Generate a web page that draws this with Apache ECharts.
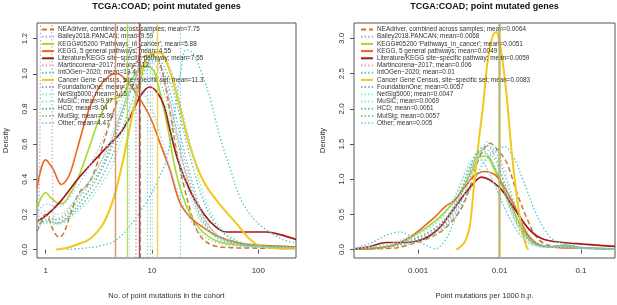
<!DOCTYPE html>
<html><head><meta charset="utf-8">
<script src="https://cdn.jsdelivr.net/npm/echarts@6/dist/echarts.min.js"></script>
<style>html,body{margin:0;padding:0;background:#fff}#c{width:617px;height:305px}</style>
</head><body><div id="c"></div>
<script>
// ---------- DATA ----------
const chartTitle = 'TCGA:COAD; point mutated genes';
const leftXTitle = 'No. of point mutations in the cohort';
const rightXTitle = 'Point mutations per 1000 b.p.';
const yTitle = 'Density';
const setNames = [
  'NEAdriver, combined across samples', 'Bailey2018.PANCAN', "KEGG#05200 'Pathways_in_cancer'",
  'KEGG, 5 general pathways', 'Literature/KEGG site\u2212specific pathway', 'Martincorena\u22122017',
  'IntOGen\u22122020', 'Cancer Gene Census, site\u2212specific set', 'FoundationOne', 'NetSig5000',
  'MuSiC', 'HCD', 'MutSig', 'Other'];
const leftMeans = [7.75, 9.59, 5.88, 4.55, 7.55, 7.12, 18.4, 11.3, 7.73, 6.15, 9.97, 9.04, 6.99, 4.47];
const rightMeans = [0.0064, 0.0068, 0.0051, 0.0049, 0.0059, 0.006, 0.01, 0.0083, 0.0057, 0.0047, 0.0069, 0.0061, 0.0057, 0.005];
const leftXTicks = [1, 10, 100];
const rightXTicks = [0.001, 0.01, 0.1];
const leftYTicks = [0, 0.2, 0.4, 0.6, 0.8, 1.0, 1.2];
const rightYTicks = [0, 0.5, 1.0, 1.5, 2.0, 2.5, 3.0];

// left panel curves: [mutations, density]
const L_nea = [[0.83,0.105],[0.9,0.15],[1.0,0.20],[1.08,0.17],[1.2,0.10],[1.35,0.07],[1.5,0.10],[1.75,0.22],[2.1,0.33],[2.5,0.37],[2.9,0.45],[3.4,0.58],[4.0,0.72],[4.8,0.86],[5.8,0.98],[7,1.06],[8.5,1.1],[10,1.11],[11.5,1.08],[13,0.97],[15,0.76],[17.5,0.52],[20,0.36],[23,0.22],[26,0.12],[30,0.06],[37,0.025],[50,0.012],[100,0.008],[226,0.006]];
const L_bailey = [[0.83,0.14],[1,0.2],[1.2,0.17],[1.5,0.2],[2,0.3],[2.5,0.38],[3,0.45],[4,0.6],[5,0.76],[6.5,0.93],[8,1.04],[10,1.08],[12,1.03],[14,0.9],[17,0.67],[20,0.47],[24,0.3],[30,0.16],[40,0.07],[60,0.03],[100,0.015],[226,0.01]];
const L_kegg05200 = [[0.83,0.23],[0.9,0.29],[1,0.325],[1.1,0.30],[1.25,0.27],[1.4,0.26],[1.6,0.29],[2,0.4],[2.5,0.56],[3,0.7],[3.5,0.8],[4,0.85],[4.6,0.86],[5.3,0.88],[6.3,0.96],[7.5,1.02],[9,1.045],[10.5,1.01],[12,0.88],[14,0.7],[16,0.5],[18,0.37],[21,0.25],[25,0.16],[30,0.1],[40,0.05],[55,0.03],[100,0.02],[226,0.012]];
const L_kegg5 = [[0.83,0.35],[1,0.51],[1.17,0.46],[1.41,0.37],[1.66,0.42],[2,0.58],[2.5,0.78],[3.16,0.92],[4,0.99],[4.7,1.0],[5.6,0.97],[7.1,0.89],[9.5,0.76],[12,0.6],[14.8,0.45],[18.2,0.27],[22.4,0.19],[28,0.14],[40,0.08],[63,0.04],[100,0.025],[226,0.015]];
const L_lit = [[0.83,0.163],[1,0.19],[1.41,0.28],[2,0.4],[2.8,0.5],[4,0.6],[5,0.66],[6.3,0.76],[7.9,0.88],[9.5,0.925],[11,0.9],[13,0.82],[14.5,0.7],[17.5,0.51],[23,0.33],[31,0.2],[40,0.128],[50,0.1],[80,0.1],[120,0.1],[160,0.085],[226,0.058]];
const L_martincorena = [[0.83,0.12],[0.87,0.3],[0.9,1.4],[0.93,2.5],[1.1,2.5],[1.14,1.4],[1.17,0.3],[1.25,0.15],[1.7,0.2],[2.3,0.3],[3,0.4],[4,0.56],[5,0.74],[6.3,0.9],[8,1.02],[10,1.06],[12,1.0],[15,0.82],[19,0.57],[24,0.35],[30,0.19],[40,0.09],[60,0.04],[100,0.02],[226,0.01]];
const L_intogen = [[1.6,0.0],[2.5,0.01],[3.2,0.02],[4.5,0.05],[6.3,0.14],[9.5,0.3],[11.5,0.4],[13.8,0.52],[16,0.75],[18.5,1.0],[21,1.137],[24,1.12],[28.3,1.03],[35.2,0.86],[43.6,0.64],[54.4,0.46],[67.8,0.29],[89,0.18],[120,0.11],[170,0.057],[226,0.036]];
const L_cgc = [[1.25,0.0],[1.6,0.01],[2,0.03],[2.6,0.06],[3.5,0.15],[4.4,0.3],[5.4,0.52],[6.3,0.72],[7.1,0.86],[8,1.0],[9,1.09],[10.3,1.12],[11.9,1.12],[14.8,1.01],[18.3,0.81],[22.7,0.59],[30.4,0.39],[43.6,0.256],[62.7,0.146],[83.6,0.057],[104,0.02],[140,0.008],[226,0.005]];
const L_f1 = [[0.83,0.13],[1,0.17],[1.3,0.15],[1.7,0.2],[2.3,0.3],[3,0.4],[4,0.55],[5,0.72],[6.3,0.9],[8,1.05],[10,1.1],[12,1.05],[15,0.88],[19,0.62],[24,0.38],[30,0.2],[38,0.1],[50,0.05],[80,0.02],[226,0.01]];
const L_netsig = [[0.83,0.17],[1,0.22],[1.3,0.2],[1.7,0.25],[2.3,0.35],[3,0.45],[4,0.62],[5,0.8],[6.3,0.96],[8,1.04],[10,1.0],[12,0.9],[15,0.7],[19,0.45],[24,0.27],[30,0.14],[40,0.07],[60,0.03],[100,0.015],[226,0.01]];
const L_music = [[0.83,0.12],[1,0.15],[1.3,0.14],[1.7,0.18],[2.3,0.25],[3,0.33],[4,0.45],[5,0.6],[6.3,0.78],[8,0.95],[10,1.07],[12.5,1.1],[15,1.03],[19,0.8],[24,0.55],[30,0.33],[38,0.18],[50,0.09],[70,0.04],[110,0.02],[226,0.012]];
const L_hcd = [[0.83,0.13],[1,0.16],[1.3,0.15],[1.7,0.19],[2.3,0.27],[3,0.36],[4,0.5],[5,0.65],[6.3,0.82],[8,0.98],[10,1.08],[12,1.07],[15,0.95],[19,0.72],[24,0.48],[30,0.29],[38,0.16],[50,0.08],[70,0.035],[110,0.02],[226,0.012]];
const L_mutsig = [[0.83,0.15],[1,0.19],[1.3,0.17],[1.7,0.22],[2.3,0.33],[3,0.42],[4,0.58],[5,0.76],[6.3,0.93],[8,1.04],[10,1.03],[12,0.95],[15,0.77],[19,0.52],[24,0.32],[30,0.17],[40,0.08],[60,0.035],[100,0.018],[226,0.01]];
const L_other = [[0.83,0.2],[1,0.26],[1.3,0.24],[1.7,0.3],[2.3,0.42],[3,0.55],[4,0.72],[5,0.85],[6.3,0.92],[8,0.9],[10,0.8],[12,0.65],[15,0.45],[19,0.27],[24,0.15],[30,0.08],[40,0.04],[60,0.02],[226,0.01]];

// right panel curves: [mutations per 1000 bp, density]
const R_nea = [[0.000163,0.005],[0.0005,0.02],[0.00068,0.05],[0.00125,0.146],[0.00204,0.28],[0.0033,0.56],[0.0043,0.88],[0.0052,1.2],[0.0062,1.4],[0.0076,1.51],[0.0097,1.4],[0.0122,1.24],[0.0162,0.82],[0.0214,0.46],[0.0283,0.18],[0.04,0.06],[0.065,0.04],[0.1,0.02],[0.262,0.01]];
const R_bailey = [[0.000163,0.01],[0.0004,0.03],[0.0007,0.08],[0.0011,0.15],[0.0017,0.25],[0.0025,0.42],[0.0034,0.7],[0.0045,1.05],[0.0057,1.35],[0.0072,1.48],[0.009,1.38],[0.0112,1.1],[0.0145,0.7],[0.019,0.35],[0.026,0.13],[0.038,0.05],[0.06,0.06],[0.09,0.03],[0.15,0.015],[0.262,0.01]];
const R_kegg05200 = [[0.000163,0.005],[0.0004,0.03],[0.0007,0.13],[0.00115,0.28],[0.0016,0.4],[0.0022,0.55],[0.0032,0.79],[0.0045,1.1],[0.0055,1.3],[0.0068,1.33],[0.0085,1.15],[0.0108,0.9],[0.0135,0.65],[0.0195,0.28],[0.026,0.1],[0.04,0.04],[0.065,0.06],[0.1,0.03],[0.262,0.01]];
const R_kegg5 = [[0.000163,0.005],[0.0003,0.02],[0.0005,0.06],[0.0008,0.18],[0.0011,0.3],[0.0016,0.46],[0.0022,0.62],[0.0028,0.7],[0.0036,0.86],[0.0048,1.04],[0.0066,1.11],[0.0088,1.06],[0.011,0.92],[0.0162,0.56],[0.0214,0.24],[0.03,0.077],[0.05,0.03],[0.1,0.02],[0.262,0.01]];
const R_lit = [[0.000163,0.01],[0.00025,0.04],[0.00041,0.1],[0.00072,0.1],[0.00115,0.146],[0.0016,0.25],[0.00204,0.375],[0.00324,0.695],[0.00447,0.9],[0.006,1.03],[0.01,0.88],[0.0148,0.6],[0.0234,0.28],[0.0347,0.146],[0.06,0.1],[0.107,0.077],[0.224,0.05],[0.262,0.045]];
const R_martincorena = [[0.000163,0.01],[0.0004,0.04],[0.0007,0.1],[0.0011,0.18],[0.0017,0.3],[0.0025,0.5],[0.0034,0.8],[0.0045,1.15],[0.0057,1.38],[0.0068,1.42],[0.0085,1.3],[0.0108,1.0],[0.014,0.6],[0.019,0.27],[0.026,0.1],[0.04,0.04],[0.065,0.05],[0.1,0.025],[0.262,0.01]];
const R_intogen = [[0.000163,0.02],[0.00025,0.08],[0.0004,0.2],[0.0006,0.25],[0.0009,0.15],[0.0013,0.05],[0.0016,0.01],[0.0022,0.15],[0.00275,0.4],[0.0035,0.65],[0.0048,0.95],[0.0065,1.25],[0.009,1.4],[0.0115,1.46],[0.015,1.3],[0.02,0.95],[0.027,0.56],[0.035,0.3],[0.045,0.146],[0.06,0.09],[0.09,0.04],[0.15,0.02],[0.262,0.01]];
const R_cgc = [[0.00295,0.0],[0.0037,0.1],[0.0043,0.33],[0.0048,0.85],[0.0055,1.5],[0.0063,2.06],[0.007,2.6],[0.0077,2.9],[0.0085,3.07],[0.0092,3.09],[0.01,2.95],[0.011,2.65],[0.0122,2.2],[0.0138,1.5],[0.0155,0.95],[0.0175,0.5],[0.0196,0.2],[0.0215,0.04],[0.0225,0.0]];
const R_f1 = [[0.000163,0.01],[0.0004,0.05],[0.0007,0.12],[0.0011,0.2],[0.0017,0.32],[0.0025,0.52],[0.0034,0.85],[0.0045,1.2],[0.0056,1.38],[0.0068,1.36],[0.0085,1.2],[0.0108,0.92],[0.014,0.55],[0.019,0.25],[0.026,0.09],[0.04,0.04],[0.065,0.05],[0.1,0.02],[0.262,0.008]];
const R_netsig = [[0.000163,0.02],[0.0004,0.07],[0.0007,0.16],[0.0011,0.26],[0.0017,0.4],[0.0025,0.65],[0.0034,0.98],[0.0043,1.25],[0.0053,1.33],[0.0065,1.22],[0.0082,0.98],[0.0105,0.7],[0.014,0.4],[0.019,0.17],[0.026,0.06],[0.04,0.03],[0.065,0.04],[0.1,0.02],[0.262,0.008]];
const R_music = [[0.000163,0.01],[0.0004,0.03],[0.0007,0.07],[0.0011,0.13],[0.0017,0.22],[0.0025,0.4],[0.0034,0.68],[0.0045,1.05],[0.0058,1.38],[0.0072,1.53],[0.009,1.45],[0.0112,1.18],[0.0145,0.75],[0.019,0.38],[0.026,0.14],[0.038,0.05],[0.06,0.07],[0.09,0.03],[0.15,0.015],[0.262,0.01]];
const R_hcd = [[0.000163,0.01],[0.0004,0.04],[0.0007,0.09],[0.0011,0.16],[0.0017,0.27],[0.0025,0.46],[0.0034,0.78],[0.0045,1.15],[0.0057,1.42],[0.007,1.47],[0.0087,1.34],[0.011,1.02],[0.0142,0.62],[0.019,0.28],[0.026,0.1],[0.04,0.04],[0.062,0.06],[0.1,0.025],[0.262,0.01]];
const R_mutsig = [[0.000163,0.01],[0.0004,0.05],[0.0007,0.11],[0.0011,0.2],[0.0017,0.33],[0.0025,0.55],[0.0034,0.88],[0.0045,1.22],[0.0056,1.4],[0.0068,1.38],[0.0085,1.2],[0.0108,0.9],[0.014,0.52],[0.019,0.22],[0.026,0.08],[0.04,0.04],[0.065,0.06],[0.1,0.025],[0.262,0.01]];
const R_other = [[0.000163,0.02],[0.0004,0.06],[0.0007,0.14],[0.0011,0.24],[0.0017,0.38],[0.0025,0.62],[0.0034,0.95],[0.0044,1.22],[0.0054,1.3],[0.0066,1.2],[0.0083,0.98],[0.0105,0.7],[0.014,0.4],[0.019,0.17],[0.026,0.06],[0.04,0.03],[0.065,0.04],[0.1,0.02],[0.262,0.008]];

const leftCurves = [L_nea, L_bailey, L_kegg05200, L_kegg5, L_lit, L_martincorena, L_intogen, L_cgc, L_f1, L_netsig, L_music, L_hcd, L_mutsig, L_other];
const rightCurves = [R_nea, R_bailey, R_kegg05200, R_kegg5, R_lit, R_martincorena, R_intogen, R_cgc, R_f1, R_netsig, R_music, R_hcd, R_mutsig, R_other];

// ---------- STYLES ----------
const DOT = [1.4, 2.2], DASH = [5, 3];
const styles = [
  {c:'#C8782A', w:1.5, t:DASH}, {c:'#A9A3CF', w:1.3, t:DOT}, {c:'#A2DB2A', w:1.6, t:'solid'},
  {c:'#E8661E', w:1.6, t:'solid'}, {c:'#A8151A', w:1.7, t:'solid'}, {c:'#D3A3C6', w:1.3, t:DOT},
  {c:'#3FC7CF', w:1.3, t:DOT}, {c:'#F2C81A', w:2.0, t:'solid'}, {c:'#5AB6C9', w:1.3, t:DOT},
  {c:'#8DE3E3', w:1.3, t:DOT}, {c:'#8FE0CC', w:1.3, t:DOT}, {c:'#45C49A', w:1.3, t:DOT},
  {c:'#72D25E', w:1.3, t:DOT}, {c:'#A7C4E2', w:1.3, t:DOT}];
const FONT = 'Liberation Sans';
const fmtNum = v => String(Number((+v).toPrecision(3)));

function buildSeries(curves, means, panel) {
  return curves.map((d, i) => {
    const s = styles[i];
    return {
      type: 'line', name: setNames[i] + '; mean=' + fmtNum(means[i]),
      xAxisIndex: panel, yAxisIndex: panel, data: d, smooth: 0.35,
      symbol: 'none', silent: true, animation: false, clip: true,
      lineStyle: {color: s.c, width: s.w, type: s.t},
      itemStyle: {color: s.c},
      markLine: {silent: true, symbol: 'none', animation: false, label: {show: false},
        lineStyle: {color: s.c, width: s.t === 'solid' ? 1.4 : 1.1, type: s.t, opacity: 0.8},
        data: [{xAxis: means[i]}]}
    };
  });
}
const leftSeries = buildSeries(leftCurves, leftMeans, 0);
const rightSeries = buildSeries(rightCurves, rightMeans, 1);

function xAxis(idx, min, max, ticks, title) {
  return {type: 'log', logBase: 10, gridIndex: idx, min: min, max: max,
    name: title, nameLocation: 'middle', nameGap: 34,
    nameTextStyle: {fontFamily: FONT, fontSize: 7.5, color: '#333'},
    axisLine: {show: false}, splitLine: {show: false},
    axisTick: {show: true, length: 4, customValues: ticks, lineStyle: {color: '#555'}},
    axisLabel: {customValues: ticks, margin: 9, fontFamily: FONT, fontSize: 8, color: '#333', formatter: fmtNum}};
}
function yAxis(idx, min, max, ticks) {
  return {type: 'value', gridIndex: idx, min: min, max: max,
    name: yTitle, nameLocation: 'middle', nameGap: 27,
    nameTextStyle: {fontFamily: FONT, fontSize: 7.5, color: '#333'},
    axisLine: {show: false}, splitLine: {show: false},
    axisTick: {show: true, length: 4, customValues: ticks, lineStyle: {color: '#555'}},
    axisLabel: {customValues: ticks, rotate: 90, margin: 8, fontFamily: FONT, fontSize: 8, color: '#333',
      formatter: v => (+v).toFixed(1)}};
}
function legend(left, names) {
  return {show: true, left: left, top: 26, orient: 'vertical', selectedMode: false,
    itemWidth: 12, itemHeight: 7, itemGap: 0.2, padding: 0,
    itemStyle: {opacity: 0}, data: names,
    textStyle: {fontFamily: FONT, fontSize: 6.4, lineHeight: 7, color: '#333', padding: [0, 0, 0, -1]}};
}

const chart = echarts.init(document.getElementById('c'), null, {renderer: 'canvas'});
chart.setOption({
  animation: false,
  backgroundColor: '#fff',
  title: [
    {text: chartTitle, left: 166.5, top: 2, padding: 0, textAlign: 'center', textStyle: {fontFamily: FONT, fontSize: 9, fontWeight: 'bold', color: '#111'}},
    {text: chartTitle, left: 484.5, top: 2, padding: 0, textAlign: 'center', textStyle: {fontFamily: FONT, fontSize: 9, fontWeight: 'bold', color: '#111'}}
  ],
  grid: [
    {left: 37, top: 23, width: 259, height: 243, show: true, borderColor: '#555', borderWidth: 1, backgroundColor: 'transparent'},
    {left: 354, top: 23, width: 261, height: 243, show: true, borderColor: '#555', borderWidth: 1, backgroundColor: 'transparent'}
  ],
  xAxis: [xAxis(0, 0.83, 226, leftXTicks, leftXTitle), xAxis(1, 0.000163, 0.262, rightXTicks, rightXTitle)],
  yAxis: [yAxis(0, -0.048, 1.289, leftYTicks), yAxis(1, -0.12, 3.22, rightYTicks)],
  legend: [legend(41, leftSeries.map(s => s.name)), legend(360, rightSeries.map(s => s.name))],
  series: leftSeries.concat(rightSeries)
});
</script></body></html>
